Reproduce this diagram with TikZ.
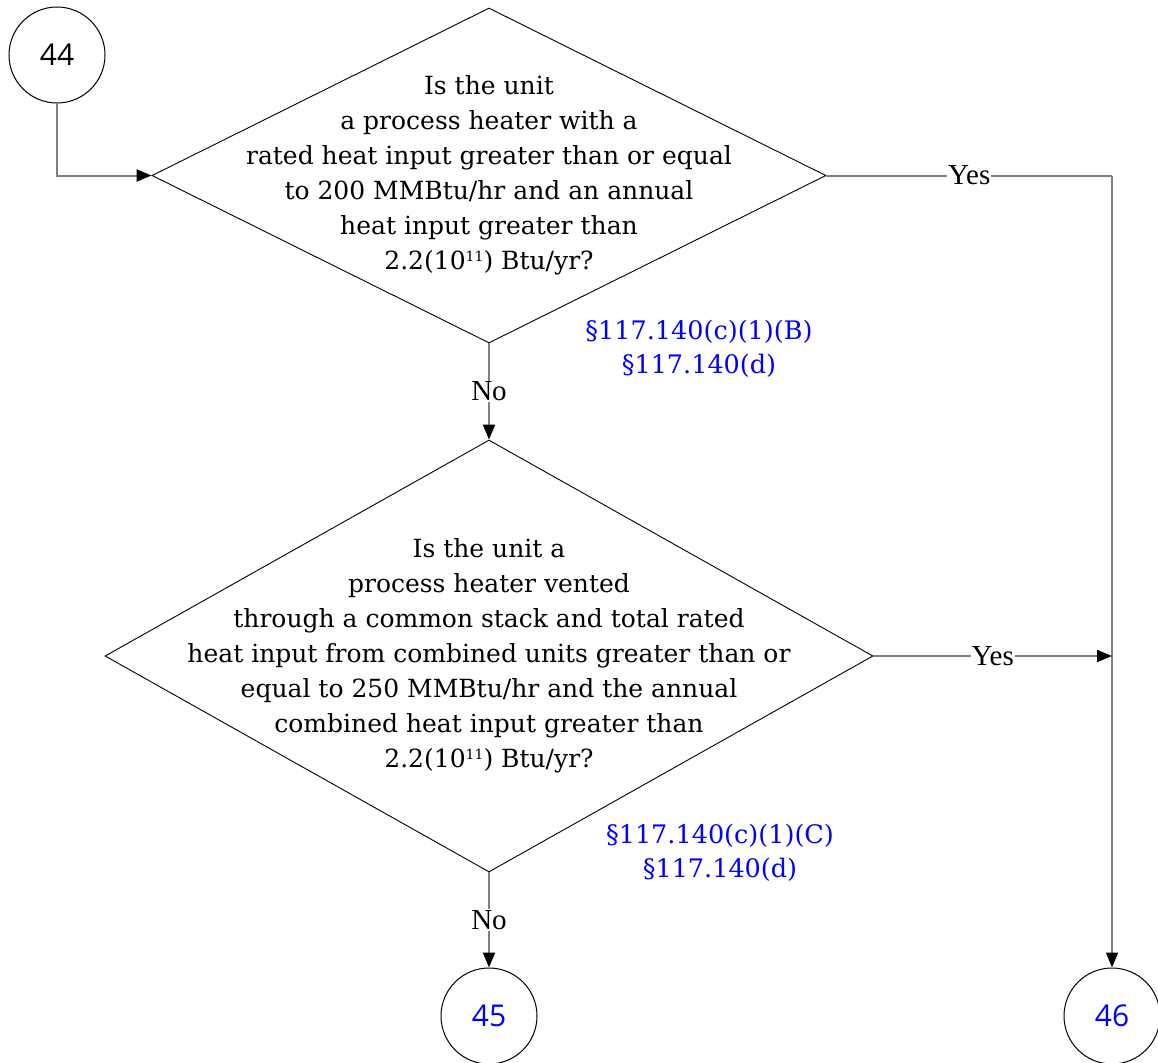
\documentclass[tikz,border=0pt]{standalone}
\usepackage{fontspec}
\setmainfont{DejaVu Serif}
\newfontfamily\yesfont{Liberation Serif}
\newfontfamily\numfont{Open Sans}
\usetikzlibrary{shapes.geometric,arrows.meta}
\newcommand{\supsm}[1]{\raisebox{8pt}{\fontsize{14}{14}\selectfont #1}}
\begin{document}
\begin{tikzpicture}[x=1pt,y=-1pt,
  decision/.style={diamond, draw=black, line width=0.9pt, inner sep=0pt},
  dtext/.style={align=center, font=\fontsize{25}{35}\selectfont, inner sep=0pt},
  conn/.style={draw=gray, line width=2pt},
  tip/.style={-{Triangle[length=15pt,width=12pt,color=black]}},
  lbl/.style={fill=white, inner sep=1pt, font=\yesfont\fontsize{29}{30}\selectfont},
  connector/.style={circle, draw=black, line width=1pt, minimum size=96pt, inner sep=0pt, font=\numfont\fontsize{30}{30}\selectfont},
  sec/.style={text=blue, align=center, font=\fontsize{25.5}{34}\selectfont, inner sep=0pt}]
\useasboundingbox (0,0) rectangle (1158,1062);

\node[connector] (c44) at (57,55) {44};
\node[connector, text=blue] (c45) at (489,1016) {45};
\node[connector, text=blue] (c46) at (1112,1016) {46};

\node[decision, minimum width=674pt, minimum height=335pt] (d1) at (489,175.5) {};
\node[dtext] (t1) at (d1.center) {Is the unit\\ a process heater with a\\ rated heat input greater than or equal\\ to 200 MMBtu/hr and an annual\\ heat input greater than\\ 2.2(10\supsm{11}) Btu/yr?};

\node[decision, minimum width=768pt, minimum height=432pt] (d2) at (489,656) {};
\node[dtext] (t2) at (d2.center) {Is the unit a\\ process heater vented\\ through a common stack and total rated\\ heat input from combined units greater than or\\ equal to 250 MMBtu/hr and the annual\\ combined heat input greater than\\ 2.2(10\supsm{11}) Btu/yr?};

\node[sec] (s1) at (699,349) {§117.140(c)(1)(B)\\ §117.140(d)};
\node[sec] (s2) at (720,853) {§117.140(c)(1)(C)\\ §117.140(d)};

\coordinate (j1) at (d1.east -| c46.north);
\coordinate (j2) at (d2.east -| c46.north);

\draw[conn, tip] (c44.south) |- (d1.west);
\draw[conn] (d1.east) -- node[lbl] (y1) {Yes} (j1);
\draw[conn, tip] (j1) -- (c46.north);
\draw[conn, tip] (d1.south) -- node[lbl] (n1) {No} (d2.north);
\draw[conn, tip] (d2.east) -- node[lbl] (y2) {Yes} (j2);
\draw[conn, tip] (d2.south) -- node[lbl] (n2) {No} (c45.north);
\end{tikzpicture}
\end{document}
